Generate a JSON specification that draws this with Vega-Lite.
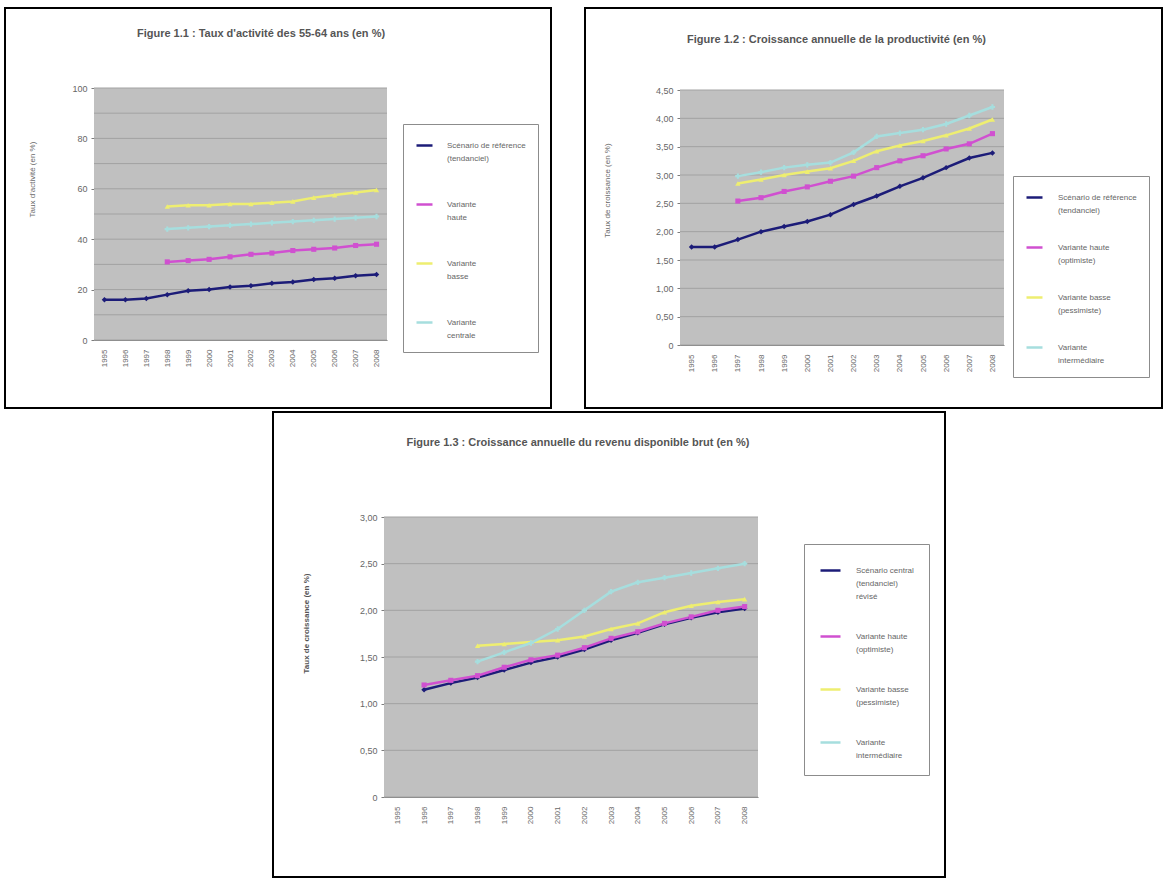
{
  "$schema": "https://vega.github.io/schema/vega-lite/v6.json",
  "padding": {"left": 4, "top": 7, "right": 0, "bottom": 0},
  "background": "#ffffff",
  "spacing": 2,
  "resolve": {"scale": {"color": "independent"}},
  "datasets": {
    "fond": [{"zone": "zone de traçage"}],
    "grille1": [{"valeur": 0}, {"valeur": 10}, {"valeur": 20}, {"valeur": 30}, {"valeur": 40}, {"valeur": 50}, {"valeur": 60}, {"valeur": 70}, {"valeur": 80}, {"valeur": 90}, {"valeur": 100}],
    "grille2": [{"valeur": 0}, {"valeur": 0.5}, {"valeur": 1}, {"valeur": 1.5}, {"valeur": 2}, {"valeur": 2.5}, {"valeur": 3}, {"valeur": 3.5}, {"valeur": 4}, {"valeur": 4.5}],
    "grille3": [{"valeur": 0}, {"valeur": 0.5}, {"valeur": 1}, {"valeur": 1.5}, {"valeur": 2}, {"valeur": 2.5}, {"valeur": 3}],
    "p1": [
      {"annee": 1995, "serie": "Scénario de référence\n(tendanciel)", "valeur": 16},
      {"annee": 1996, "serie": "Scénario de référence\n(tendanciel)", "valeur": 16},
      {"annee": 1997, "serie": "Scénario de référence\n(tendanciel)", "valeur": 16.5},
      {"annee": 1998, "serie": "Scénario de référence\n(tendanciel)", "valeur": 18},
      {"annee": 1999, "serie": "Scénario de référence\n(tendanciel)", "valeur": 19.5},
      {"annee": 2000, "serie": "Scénario de référence\n(tendanciel)", "valeur": 20},
      {"annee": 2001, "serie": "Scénario de référence\n(tendanciel)", "valeur": 21},
      {"annee": 2002, "serie": "Scénario de référence\n(tendanciel)", "valeur": 21.5},
      {"annee": 2003, "serie": "Scénario de référence\n(tendanciel)", "valeur": 22.5},
      {"annee": 2004, "serie": "Scénario de référence\n(tendanciel)", "valeur": 23},
      {"annee": 2005, "serie": "Scénario de référence\n(tendanciel)", "valeur": 24},
      {"annee": 2006, "serie": "Scénario de référence\n(tendanciel)", "valeur": 24.5},
      {"annee": 2007, "serie": "Scénario de référence\n(tendanciel)", "valeur": 25.5},
      {"annee": 2008, "serie": "Scénario de référence\n(tendanciel)", "valeur": 26},
      {"annee": 1998, "serie": "Variante\nhaute", "valeur": 31},
      {"annee": 1999, "serie": "Variante\nhaute", "valeur": 31.5},
      {"annee": 2000, "serie": "Variante\nhaute", "valeur": 32},
      {"annee": 2001, "serie": "Variante\nhaute", "valeur": 33},
      {"annee": 2002, "serie": "Variante\nhaute", "valeur": 34},
      {"annee": 2003, "serie": "Variante\nhaute", "valeur": 34.5},
      {"annee": 2004, "serie": "Variante\nhaute", "valeur": 35.5},
      {"annee": 2005, "serie": "Variante\nhaute", "valeur": 36},
      {"annee": 2006, "serie": "Variante\nhaute", "valeur": 36.5},
      {"annee": 2007, "serie": "Variante\nhaute", "valeur": 37.5},
      {"annee": 2008, "serie": "Variante\nhaute", "valeur": 38},
      {"annee": 1998, "serie": "Variante\nbasse", "valeur": 53},
      {"annee": 1999, "serie": "Variante\nbasse", "valeur": 53.5},
      {"annee": 2000, "serie": "Variante\nbasse", "valeur": 53.5},
      {"annee": 2001, "serie": "Variante\nbasse", "valeur": 54},
      {"annee": 2002, "serie": "Variante\nbasse", "valeur": 54},
      {"annee": 2003, "serie": "Variante\nbasse", "valeur": 54.5},
      {"annee": 2004, "serie": "Variante\nbasse", "valeur": 55},
      {"annee": 2005, "serie": "Variante\nbasse", "valeur": 56.5},
      {"annee": 2006, "serie": "Variante\nbasse", "valeur": 57.5},
      {"annee": 2007, "serie": "Variante\nbasse", "valeur": 58.5},
      {"annee": 2008, "serie": "Variante\nbasse", "valeur": 59.5},
      {"annee": 1998, "serie": "Variante\ncentrale", "valeur": 44},
      {"annee": 1999, "serie": "Variante\ncentrale", "valeur": 44.5},
      {"annee": 2000, "serie": "Variante\ncentrale", "valeur": 45},
      {"annee": 2001, "serie": "Variante\ncentrale", "valeur": 45.5},
      {"annee": 2002, "serie": "Variante\ncentrale", "valeur": 46},
      {"annee": 2003, "serie": "Variante\ncentrale", "valeur": 46.5},
      {"annee": 2004, "serie": "Variante\ncentrale", "valeur": 47},
      {"annee": 2005, "serie": "Variante\ncentrale", "valeur": 47.5},
      {"annee": 2006, "serie": "Variante\ncentrale", "valeur": 48},
      {"annee": 2007, "serie": "Variante\ncentrale", "valeur": 48.5},
      {"annee": 2008, "serie": "Variante\ncentrale", "valeur": 49}
    ],
    "p2": [
      {"annee": 1995, "serie": "Scénario de référence\n(tendanciel)", "valeur": 1.73},
      {"annee": 1996, "serie": "Scénario de référence\n(tendanciel)", "valeur": 1.73},
      {"annee": 1997, "serie": "Scénario de référence\n(tendanciel)", "valeur": 1.86},
      {"annee": 1998, "serie": "Scénario de référence\n(tendanciel)", "valeur": 2.0},
      {"annee": 1999, "serie": "Scénario de référence\n(tendanciel)", "valeur": 2.09},
      {"annee": 2000, "serie": "Scénario de référence\n(tendanciel)", "valeur": 2.18},
      {"annee": 2001, "serie": "Scénario de référence\n(tendanciel)", "valeur": 2.3},
      {"annee": 2002, "serie": "Scénario de référence\n(tendanciel)", "valeur": 2.48},
      {"annee": 2003, "serie": "Scénario de référence\n(tendanciel)", "valeur": 2.63},
      {"annee": 2004, "serie": "Scénario de référence\n(tendanciel)", "valeur": 2.8},
      {"annee": 2005, "serie": "Scénario de référence\n(tendanciel)", "valeur": 2.95},
      {"annee": 2006, "serie": "Scénario de référence\n(tendanciel)", "valeur": 3.13},
      {"annee": 2007, "serie": "Scénario de référence\n(tendanciel)", "valeur": 3.3},
      {"annee": 2008, "serie": "Scénario de référence\n(tendanciel)", "valeur": 3.39},
      {"annee": 1997, "serie": "Variante haute\n(optimiste)", "valeur": 2.54},
      {"annee": 1998, "serie": "Variante haute\n(optimiste)", "valeur": 2.6},
      {"annee": 1999, "serie": "Variante haute\n(optimiste)", "valeur": 2.71},
      {"annee": 2000, "serie": "Variante haute\n(optimiste)", "valeur": 2.79},
      {"annee": 2001, "serie": "Variante haute\n(optimiste)", "valeur": 2.89},
      {"annee": 2002, "serie": "Variante haute\n(optimiste)", "valeur": 2.98},
      {"annee": 2003, "serie": "Variante haute\n(optimiste)", "valeur": 3.13},
      {"annee": 2004, "serie": "Variante haute\n(optimiste)", "valeur": 3.25},
      {"annee": 2005, "serie": "Variante haute\n(optimiste)", "valeur": 3.34},
      {"annee": 2006, "serie": "Variante haute\n(optimiste)", "valeur": 3.46},
      {"annee": 2007, "serie": "Variante haute\n(optimiste)", "valeur": 3.55},
      {"annee": 2008, "serie": "Variante haute\n(optimiste)", "valeur": 3.73},
      {"annee": 1997, "serie": "Variante basse\n(pessimiste)", "valeur": 2.85},
      {"annee": 1998, "serie": "Variante basse\n(pessimiste)", "valeur": 2.92},
      {"annee": 1999, "serie": "Variante basse\n(pessimiste)", "valeur": 3.0},
      {"annee": 2000, "serie": "Variante basse\n(pessimiste)", "valeur": 3.06},
      {"annee": 2001, "serie": "Variante basse\n(pessimiste)", "valeur": 3.12},
      {"annee": 2002, "serie": "Variante basse\n(pessimiste)", "valeur": 3.25},
      {"annee": 2003, "serie": "Variante basse\n(pessimiste)", "valeur": 3.42},
      {"annee": 2004, "serie": "Variante basse\n(pessimiste)", "valeur": 3.52},
      {"annee": 2005, "serie": "Variante basse\n(pessimiste)", "valeur": 3.6},
      {"annee": 2006, "serie": "Variante basse\n(pessimiste)", "valeur": 3.7},
      {"annee": 2007, "serie": "Variante basse\n(pessimiste)", "valeur": 3.82},
      {"annee": 2008, "serie": "Variante basse\n(pessimiste)", "valeur": 3.98},
      {"annee": 1997, "serie": "Variante\nintermédiaire", "valeur": 2.98},
      {"annee": 1998, "serie": "Variante\nintermédiaire", "valeur": 3.05},
      {"annee": 1999, "serie": "Variante\nintermédiaire", "valeur": 3.13},
      {"annee": 2000, "serie": "Variante\nintermédiaire", "valeur": 3.18},
      {"annee": 2001, "serie": "Variante\nintermédiaire", "valeur": 3.22},
      {"annee": 2002, "serie": "Variante\nintermédiaire", "valeur": 3.4},
      {"annee": 2003, "serie": "Variante\nintermédiaire", "valeur": 3.68},
      {"annee": 2004, "serie": "Variante\nintermédiaire", "valeur": 3.74},
      {"annee": 2005, "serie": "Variante\nintermédiaire", "valeur": 3.8},
      {"annee": 2006, "serie": "Variante\nintermédiaire", "valeur": 3.9},
      {"annee": 2007, "serie": "Variante\nintermédiaire", "valeur": 4.05},
      {"annee": 2008, "serie": "Variante\nintermédiaire", "valeur": 4.2}
    ],
    "p3": [
      {"annee": 1996, "serie": "Scénario central\n(tendanciel)\nrévisé", "valeur": 1.15},
      {"annee": 1997, "serie": "Scénario central\n(tendanciel)\nrévisé", "valeur": 1.22},
      {"annee": 1998, "serie": "Scénario central\n(tendanciel)\nrévisé", "valeur": 1.28},
      {"annee": 1999, "serie": "Scénario central\n(tendanciel)\nrévisé", "valeur": 1.36},
      {"annee": 2000, "serie": "Scénario central\n(tendanciel)\nrévisé", "valeur": 1.44},
      {"annee": 2001, "serie": "Scénario central\n(tendanciel)\nrévisé", "valeur": 1.5},
      {"annee": 2002, "serie": "Scénario central\n(tendanciel)\nrévisé", "valeur": 1.58},
      {"annee": 2003, "serie": "Scénario central\n(tendanciel)\nrévisé", "valeur": 1.68},
      {"annee": 2004, "serie": "Scénario central\n(tendanciel)\nrévisé", "valeur": 1.76},
      {"annee": 2005, "serie": "Scénario central\n(tendanciel)\nrévisé", "valeur": 1.85},
      {"annee": 2006, "serie": "Scénario central\n(tendanciel)\nrévisé", "valeur": 1.92},
      {"annee": 2007, "serie": "Scénario central\n(tendanciel)\nrévisé", "valeur": 1.98},
      {"annee": 2008, "serie": "Scénario central\n(tendanciel)\nrévisé", "valeur": 2.02},
      {"annee": 1996, "serie": "Variante haute\n(optimiste)", "valeur": 1.2},
      {"annee": 1997, "serie": "Variante haute\n(optimiste)", "valeur": 1.25},
      {"annee": 1998, "serie": "Variante haute\n(optimiste)", "valeur": 1.3},
      {"annee": 1999, "serie": "Variante haute\n(optimiste)", "valeur": 1.39},
      {"annee": 2000, "serie": "Variante haute\n(optimiste)", "valeur": 1.47},
      {"annee": 2001, "serie": "Variante haute\n(optimiste)", "valeur": 1.52},
      {"annee": 2002, "serie": "Variante haute\n(optimiste)", "valeur": 1.6},
      {"annee": 2003, "serie": "Variante haute\n(optimiste)", "valeur": 1.7},
      {"annee": 2004, "serie": "Variante haute\n(optimiste)", "valeur": 1.77},
      {"annee": 2005, "serie": "Variante haute\n(optimiste)", "valeur": 1.86},
      {"annee": 2006, "serie": "Variante haute\n(optimiste)", "valeur": 1.93},
      {"annee": 2007, "serie": "Variante haute\n(optimiste)", "valeur": 2.0},
      {"annee": 2008, "serie": "Variante haute\n(optimiste)", "valeur": 2.04},
      {"annee": 1998, "serie": "Variante basse\n(pessimiste)", "valeur": 1.62},
      {"annee": 1999, "serie": "Variante basse\n(pessimiste)", "valeur": 1.64},
      {"annee": 2000, "serie": "Variante basse\n(pessimiste)", "valeur": 1.66},
      {"annee": 2001, "serie": "Variante basse\n(pessimiste)", "valeur": 1.68},
      {"annee": 2002, "serie": "Variante basse\n(pessimiste)", "valeur": 1.72},
      {"annee": 2003, "serie": "Variante basse\n(pessimiste)", "valeur": 1.8},
      {"annee": 2004, "serie": "Variante basse\n(pessimiste)", "valeur": 1.86},
      {"annee": 2005, "serie": "Variante basse\n(pessimiste)", "valeur": 1.98},
      {"annee": 2006, "serie": "Variante basse\n(pessimiste)", "valeur": 2.05},
      {"annee": 2007, "serie": "Variante basse\n(pessimiste)", "valeur": 2.09},
      {"annee": 2008, "serie": "Variante basse\n(pessimiste)", "valeur": 2.12},
      {"annee": 1998, "serie": "Variante\nintermédiaire", "valeur": 1.45},
      {"annee": 1999, "serie": "Variante\nintermédiaire", "valeur": 1.55},
      {"annee": 2000, "serie": "Variante\nintermédiaire", "valeur": 1.65},
      {"annee": 2001, "serie": "Variante\nintermédiaire", "valeur": 1.8},
      {"annee": 2002, "serie": "Variante\nintermédiaire", "valeur": 2.0},
      {"annee": 2003, "serie": "Variante\nintermédiaire", "valeur": 2.2},
      {"annee": 2004, "serie": "Variante\nintermédiaire", "valeur": 2.3},
      {"annee": 2005, "serie": "Variante\nintermédiaire", "valeur": 2.35},
      {"annee": 2006, "serie": "Variante\nintermédiaire", "valeur": 2.4},
      {"annee": 2007, "serie": "Variante\nintermédiaire", "valeur": 2.45},
      {"annee": 2008, "serie": "Variante\nintermédiaire", "valeur": 2.5}
    ]
  },
  "vconcat": [
    {
      "spacing": 32,
      "resolve": {"scale": {"color": "independent"}},
      "hconcat": [
        {
          "width": 546,
          "height": 400,
          "title": {"text": "Figure 1.1 : Taux d'activité des 55-64 ans (en %)", "offset": -37, "dx": -17, "baseline": "middle"},
          "layer": [
            {
              "data": {"name": "fond"},
              "mark": {"type": "rect", "color": "#c0c0c0"},
              "encoding": {
                "x": {"datum": 1994.5, "type": "quantitative"},
                "x2": {"datum": 2008.5},
                "y": {"datum": 0, "type": "quantitative"},
                "y2": {"datum": 100}
              }
            },
            {
              "data": {"name": "grille1"},
              "mark": {"type": "rule", "color": "#a2a2a2", "strokeWidth": 1},
              "encoding": {
                "x": {"datum": 1994.5, "type": "quantitative"},
                "x2": {"datum": 2008.5},
                "y": {"field": "valeur", "type": "quantitative"}
              }
            },
            {
              "data": {"name": "p1"},
              "mark": {"type": "line", "strokeWidth": 2.5},
              "encoding": {
                "x": {
                  "field": "annee", "type": "quantitative",
                  "scale": {"domain": [1994.5, 2008.5], "range": [89, 382], "nice": false, "zero": false},
                  "axis": {"values": [1995, 1996, 1997, 1998, 1999, 2000, 2001, 2002, 2003, 2004, 2005, 2006, 2007, 2008], "format": "d", "title": null, "offset": -68, "labelAngle": -90, "labelAlign": "right", "labelBaseline": "middle", "labelFontSize": 8, "labelPadding": 9, "ticks": false, "labelOverlap": false, "labelFlush": false}
                },
                "y": {
                  "field": "valeur", "type": "quantitative",
                  "scale": {"domain": [0, 100], "range": [332, 80], "nice": false, "zero": false},
                  "axis": {"values": [0, 10, 20, 30, 40, 50, 60, 70, 80, 90, 100], "format": "d", "title": "Taux d'activité (en %)", "offset": -89, "titleX": -58, "titleY": 171, "labelPadding": 4}
                },
                "color": {
                  "field": "serie", "type": "nominal",
                  "scale": {"domain": ["Scénario de référence\n(tendanciel)", "Variante\nhaute", "Variante\nbasse", "Variante\ncentrale"], "range": ["#1c1c78", "#d050d0", "#eeee70", "#a6dede"]},
                  "legend": {"orient": "none", "legendX": 398, "legendY": 116, "title": null, "direction": "vertical", "strokeColor": "#8c8c8c", "fillColor": "#ffffff", "padding": 12, "symbolType": "stroke", "symbolSize": 256, "symbolStrokeWidth": 2.5, "labelFontSize": 8, "labelColor": "#666666", "labelLimit": 220, "labelOffset": 13, "rowPadding": 32, "labelExpr": "split(datum.label, '\\n')"}
                }
              }
            },
            {
              "data": {"name": "p1"},
              "transform": [{"filter": {"field": "serie", "equal": "Scénario de référence\n(tendanciel)"}}],
              "mark": {"type": "point", "shape": "diamond", "filled": true, "size": 30, "opacity": 1},
              "encoding": {"x": {"field": "annee", "type": "quantitative"}, "y": {"field": "valeur", "type": "quantitative"}, "color": {"field": "serie", "type": "nominal", "legend": null}}
            },
            {
              "data": {"name": "p1"},
              "transform": [{"filter": {"field": "serie", "equal": "Variante\nhaute"}}],
              "mark": {"type": "point", "shape": "square", "filled": true, "size": 26, "opacity": 1},
              "encoding": {"x": {"field": "annee", "type": "quantitative"}, "y": {"field": "valeur", "type": "quantitative"}, "color": {"field": "serie", "type": "nominal", "legend": null}}
            },
            {
              "data": {"name": "p1"},
              "transform": [{"filter": {"field": "serie", "equal": "Variante\nbasse"}}],
              "mark": {"type": "point", "shape": "triangle-up", "filled": true, "size": 28, "opacity": 1},
              "encoding": {"x": {"field": "annee", "type": "quantitative"}, "y": {"field": "valeur", "type": "quantitative"}, "color": {"field": "serie", "type": "nominal", "legend": null}}
            },
            {
              "data": {"name": "p1"},
              "transform": [{"filter": {"field": "serie", "equal": "Variante\ncentrale"}}],
              "mark": {"type": "point", "shape": "cross", "filled": true, "size": 28, "opacity": 1},
              "encoding": {"x": {"field": "annee", "type": "quantitative"}, "y": {"field": "valeur", "type": "quantitative"}, "color": {"field": "serie", "type": "nominal", "legend": null}}
            }
          ]
        },
        {
          "width": 577,
          "height": 400,
          "title": {"text": "Figure 1.2 : Croissance annuelle de la productivité (en %)", "offset": -43, "dx": -37, "baseline": "middle"},
          "layer": [
            {
              "data": {"name": "fond"},
              "mark": {"type": "rect", "color": "#c0c0c0"},
              "encoding": {
                "x": {"datum": 1994.5, "type": "quantitative"},
                "x2": {"datum": 2008.5},
                "y": {"datum": 0, "type": "quantitative"},
                "y2": {"datum": 4.5}
              }
            },
            {
              "data": {"name": "grille2"},
              "mark": {"type": "rule", "color": "#a2a2a2", "strokeWidth": 1},
              "encoding": {
                "x": {"datum": 1994.5, "type": "quantitative"},
                "x2": {"datum": 2008.5},
                "y": {"field": "valeur", "type": "quantitative"}
              }
            },
            {
              "data": {"name": "p2"},
              "mark": {"type": "line", "strokeWidth": 2.5},
              "encoding": {
                "x": {
                  "field": "annee", "type": "quantitative",
                  "scale": {"domain": [1994.5, 2008.5], "range": [95, 419], "nice": false, "zero": false},
                  "axis": {"values": [1995, 1996, 1997, 1998, 1999, 2000, 2001, 2002, 2003, 2004, 2005, 2006, 2007, 2008], "format": "d", "title": null, "offset": -63, "labelAngle": -90, "labelAlign": "right", "labelBaseline": "middle", "labelFontSize": 8, "labelPadding": 9, "ticks": false, "labelOverlap": false, "labelFlush": false}
                },
                "y": {
                  "field": "valeur", "type": "quantitative",
                  "scale": {"domain": [0, 4.5], "range": [337, 82], "nice": false, "zero": false},
                  "axis": {"values": [0, 0.5, 1, 1.5, 2, 2.5, 3, 3.5, 4, 4.5], "format": ".2f", "labelExpr": "datum.value === 0 ? '0' : datum.label", "title": "Taux de croissance (en %)", "offset": -95, "titleX": -69, "titleY": 182, "labelPadding": 4}
                },
                "color": {
                  "field": "serie", "type": "nominal",
                  "scale": {"domain": ["Scénario de référence\n(tendanciel)", "Variante haute\n(optimiste)", "Variante basse\n(pessimiste)", "Variante\nintermédiaire"], "range": ["#1c1c78", "#d050d0", "#eeee70", "#a6dede"]},
                  "legend": {"orient": "none", "legendX": 428, "legendY": 168, "title": null, "direction": "vertical", "strokeColor": "#8c8c8c", "fillColor": "#ffffff", "padding": 12, "symbolType": "stroke", "symbolSize": 256, "symbolStrokeWidth": 2.5, "labelFontSize": 8, "labelColor": "#666666", "labelLimit": 220, "labelOffset": 14, "rowPadding": 23, "labelExpr": "split(datum.label, '\\n')"}
                }
              }
            },
            {
              "data": {"name": "p2"},
              "transform": [{"filter": {"field": "serie", "equal": "Scénario de référence\n(tendanciel)"}}],
              "mark": {"type": "point", "shape": "diamond", "filled": true, "size": 30, "opacity": 1},
              "encoding": {"x": {"field": "annee", "type": "quantitative"}, "y": {"field": "valeur", "type": "quantitative"}, "color": {"field": "serie", "type": "nominal", "legend": null}}
            },
            {
              "data": {"name": "p2"},
              "transform": [{"filter": {"field": "serie", "equal": "Variante haute\n(optimiste)"}}],
              "mark": {"type": "point", "shape": "square", "filled": true, "size": 26, "opacity": 1},
              "encoding": {"x": {"field": "annee", "type": "quantitative"}, "y": {"field": "valeur", "type": "quantitative"}, "color": {"field": "serie", "type": "nominal", "legend": null}}
            },
            {
              "data": {"name": "p2"},
              "transform": [{"filter": {"field": "serie", "equal": "Variante basse\n(pessimiste)"}}],
              "mark": {"type": "point", "shape": "triangle-up", "filled": true, "size": 28, "opacity": 1},
              "encoding": {"x": {"field": "annee", "type": "quantitative"}, "y": {"field": "valeur", "type": "quantitative"}, "color": {"field": "serie", "type": "nominal", "legend": null}}
            },
            {
              "data": {"name": "p2"},
              "transform": [{"filter": {"field": "serie", "equal": "Variante\nintermédiaire"}}],
              "mark": {"type": "point", "shape": "cross", "filled": true, "size": 28, "opacity": 1},
              "encoding": {"x": {"field": "annee", "type": "quantitative"}, "y": {"field": "valeur", "type": "quantitative"}, "color": {"field": "serie", "type": "nominal", "legend": null}}
            }
          ]
        }
      ]
    },
    {
      "spacing": 0,
      "resolve": {"scale": {"color": "independent"}},
      "hconcat": [
        {
          "width": 267,
          "height": 10,
          "view": {"stroke": null},
          "data": {"values": []},
          "mark": "point"
        },
        {
          "width": 672,
          "height": 465,
          "title": {"text": "Figure 1.3 : Croissance annuelle du revenu disponible brut (en %)", "offset": -42, "dx": -31, "baseline": "middle"},
          "layer": [
            {
              "data": {"name": "fond"},
              "mark": {"type": "rect", "color": "#c0c0c0"},
              "encoding": {
                "x": {"datum": 1994.5, "type": "quantitative"},
                "x2": {"datum": 2008.5},
                "y": {"datum": 0, "type": "quantitative"},
                "y2": {"datum": 3}
              }
            },
            {
              "data": {"name": "grille3"},
              "mark": {"type": "rule", "color": "#a2a2a2", "strokeWidth": 1},
              "encoding": {
                "x": {"datum": 1994.5, "type": "quantitative"},
                "x2": {"datum": 2008.5},
                "y": {"field": "valeur", "type": "quantitative"}
              }
            },
            {
              "data": {"name": "p3"},
              "mark": {"type": "line", "strokeWidth": 2.5},
              "encoding": {
                "x": {
                  "field": "annee", "type": "quantitative",
                  "scale": {"domain": [1994.5, 2008.5], "range": [111, 485], "nice": false, "zero": false},
                  "axis": {"values": [1995, 1996, 1997, 1998, 1999, 2000, 2001, 2002, 2003, 2004, 2005, 2006, 2007, 2008], "format": "d", "title": null, "offset": -80, "labelAngle": -90, "labelAlign": "right", "labelBaseline": "middle", "labelFontSize": 8, "labelPadding": 9, "ticks": false, "labelOverlap": false, "labelFlush": false}
                },
                "y": {
                  "field": "valeur", "type": "quantitative",
                  "scale": {"domain": [0, 3], "range": [385, 105], "nice": false, "zero": false},
                  "axis": {"values": [0, 0.5, 1, 1.5, 2, 2.5, 3], "format": ".2f", "labelExpr": "datum.value === 0 ? '0' : datum.label", "title": "Taux de croissance (en %)", "offset": -111, "titleX": -74, "titleY": 211, "titleFontWeight": "bold", "titleColor": "#555555", "labelPadding": 4}
                },
                "color": {
                  "field": "serie", "type": "nominal",
                  "scale": {"domain": ["Scénario central\n(tendanciel)\nrévisé", "Variante haute\n(optimiste)", "Variante basse\n(pessimiste)", "Variante\nintermédiaire"], "range": ["#1c1c78", "#d050d0", "#eeee70", "#a6dede"]},
                  "legend": {"orient": "none", "legendX": 531, "legendY": 132, "title": null, "direction": "vertical", "strokeColor": "#8c8c8c", "fillColor": "#ffffff", "padding": 15, "symbolType": "stroke", "symbolSize": 400, "symbolStrokeWidth": 2.5, "labelFontSize": 8, "labelColor": "#666666", "labelLimit": 220, "labelOffset": 14, "rowPadding": 24, "labelExpr": "split(datum.label, '\\n')"}
                }
              }
            },
            {
              "data": {"name": "p3"},
              "transform": [{"filter": {"field": "serie", "equal": "Scénario central\n(tendanciel)\nrévisé"}}],
              "mark": {"type": "point", "shape": "diamond", "filled": true, "size": 30, "opacity": 1},
              "encoding": {"x": {"field": "annee", "type": "quantitative"}, "y": {"field": "valeur", "type": "quantitative"}, "color": {"field": "serie", "type": "nominal", "legend": null}}
            },
            {
              "data": {"name": "p3"},
              "transform": [{"filter": {"field": "serie", "equal": "Variante haute\n(optimiste)"}}],
              "mark": {"type": "point", "shape": "square", "filled": true, "size": 26, "opacity": 1},
              "encoding": {"x": {"field": "annee", "type": "quantitative"}, "y": {"field": "valeur", "type": "quantitative"}, "color": {"field": "serie", "type": "nominal", "legend": null}}
            },
            {
              "data": {"name": "p3"},
              "transform": [{"filter": {"field": "serie", "equal": "Variante basse\n(pessimiste)"}}],
              "mark": {"type": "point", "shape": "triangle-up", "filled": true, "size": 28, "opacity": 1},
              "encoding": {"x": {"field": "annee", "type": "quantitative"}, "y": {"field": "valeur", "type": "quantitative"}, "color": {"field": "serie", "type": "nominal", "legend": null}}
            },
            {
              "data": {"name": "p3"},
              "transform": [{"filter": {"field": "serie", "equal": "Variante\nintermédiaire"}}],
              "mark": {"type": "point", "shape": "cross", "filled": true, "size": 28, "opacity": 1},
              "encoding": {"x": {"field": "annee", "type": "quantitative"}, "y": {"field": "valeur", "type": "quantitative"}, "color": {"field": "serie", "type": "nominal", "legend": null}}
            }
          ]
        }
      ]
    }
  ],
  "config": {
    "font": "Liberation Sans",
    "view": {"stroke": "#000000", "strokeWidth": 2},
    "locale": {"number": {"decimal": ",", "thousands": " ", "grouping": [3], "currency": ["", " €"]}},
    "style": {"guide-label": {"lineHeight": 13}},
    "axis": {"labelFontSize": 9, "labelColor": "#666666", "domainColor": "#7c7c7c", "tickColor": "#7c7c7c", "tickSize": 3, "titleFontSize": 8, "titleColor": "#6a6a6a", "titleFontWeight": "normal", "grid": false, "zindex": 1},
    "title": {"fontSize": 11, "fontWeight": "bold", "color": "#555555", "anchor": "middle", "frame": "group"}
  }
}
